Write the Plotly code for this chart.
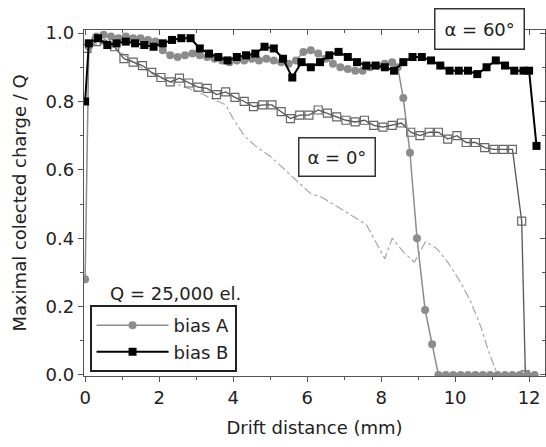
import plotly.graph_objects as go

# bias B, alpha = 60 deg (black filled squares)
xB60 = [0, 0.1, 0.35, 0.6, 0.85, 1.1, 1.35, 1.6, 1.85, 2.1, 2.35, 2.6, 2.85, 3.1, 3.35, 3.6, 3.85,
        4.1, 4.35, 4.6, 4.85, 5.1, 5.35, 5.6, 5.85, 6.1, 6.35, 6.6, 6.85, 7.1, 7.35, 7.6, 7.85,
        8.1, 8.35, 8.6, 8.85, 9.1, 9.35, 9.6, 9.85, 10.1, 10.35, 10.6, 10.85, 11.1, 11.35, 11.6,
        11.85, 12.0, 12.2]
yB60 = [0.80, 0.97, 0.985, 0.965, 0.97, 0.975, 0.97, 0.965, 0.96, 0.97, 0.98, 0.985, 0.985, 0.955,
        0.94, 0.93, 0.92, 0.93, 0.935, 0.94, 0.96, 0.955, 0.925, 0.87, 0.915, 0.90, 0.915, 0.935,
        0.945, 0.93, 0.915, 0.905, 0.905, 0.90, 0.89, 0.915, 0.93, 0.93, 0.92, 0.905, 0.89, 0.89,
        0.89, 0.88, 0.90, 0.92, 0.905, 0.89, 0.89, 0.89, 0.67]

# bias A, alpha = 60 deg (gray filled circles)
xA60 = [0, 0.1, 0.3, 0.5, 0.7, 0.9, 1.1, 1.3, 1.5, 1.7, 1.9, 2.1, 2.3, 2.5, 2.7, 2.9, 3.1, 3.3,
        3.5, 3.7, 3.9, 4.1, 4.3, 4.5, 4.7, 4.9, 5.1, 5.3, 5.5, 5.7, 5.9, 6.1, 6.3, 6.5, 6.7, 6.9,
        7.1, 7.3, 7.5, 7.7, 7.9, 8.1, 8.3, 8.45, 8.6, 8.78, 8.97, 9.19, 9.38, 9.55, 9.75, 9.95,
        10.15, 10.35, 10.55, 10.75, 10.95, 11.15, 11.35, 11.55, 11.75, 11.95, 12.15]
yA60 = [0.28, 0.96, 0.99, 0.995, 0.99, 0.985, 0.99, 0.985, 0.985, 0.98, 0.975, 0.95, 0.935, 0.93,
        0.935, 0.94, 0.935, 0.93, 0.925, 0.92, 0.915, 0.92, 0.92, 0.925, 0.92, 0.925, 0.92, 0.915,
        0.91, 0.92, 0.945, 0.95, 0.94, 0.925, 0.91, 0.90, 0.895, 0.89, 0.89, 0.90, 0.905, 0.91,
        0.915, 0.90, 0.81, 0.65, 0.40, 0.19, 0.09, 0.0, 0.0, 0.0, 0.0, 0.0, 0.0, 0.0, 0.0, 0.0,
        0.0, 0.0, 0.0, 0.0, 0.0]

# bias B, alpha = 0 deg (open squares)
xB0 = [0.05, 0.3, 0.55, 0.8, 1.05, 1.3, 1.55, 1.8, 2.05, 2.3, 2.55, 2.8, 3.05, 3.3, 3.55, 3.8,
       4.05, 4.3, 4.55, 4.8, 5.05, 5.3, 5.55, 5.8, 6.05, 6.3, 6.55, 6.8, 7.05, 7.3, 7.55, 7.8,
       8.05, 8.3, 8.55, 8.8, 9.05, 9.3, 9.55, 9.8, 10.05, 10.3, 10.55, 10.8, 11.05, 11.3, 11.55,
       11.8, 11.9]
yB0 = [0.955, 0.975, 0.98, 0.96, 0.925, 0.915, 0.905, 0.885, 0.87, 0.857, 0.868, 0.854, 0.842,
       0.838, 0.82, 0.828, 0.812, 0.80, 0.785, 0.79, 0.79, 0.77, 0.75, 0.76, 0.76, 0.775, 0.766,
       0.755, 0.745, 0.74, 0.745, 0.73, 0.725, 0.73, 0.737, 0.71, 0.70, 0.71, 0.71, 0.69, 0.70,
       0.68, 0.68, 0.665, 0.66, 0.66, 0.66, 0.45, 0.0]

# bias A, alpha = 0 deg (thin dotted gray line)
xA0 = [0.1, 0.5, 1.0, 1.5, 2.0, 2.5, 3.0, 3.4, 3.8, 4.0, 4.3, 4.6, 5.0, 5.4, 5.8, 6.1, 6.4, 6.7,
       7.0, 7.3, 7.6, 7.9, 8.1, 8.3, 8.6, 8.9, 9.2, 9.5, 9.8, 10.1, 10.4, 10.7, 10.9, 11.15, 11.5,
       12.0, 12.2]
yA0 = [0.96, 0.975, 0.94, 0.90, 0.87, 0.85, 0.83, 0.81, 0.79, 0.75, 0.70, 0.67, 0.64, 0.60, 0.56,
       0.53, 0.52, 0.50, 0.48, 0.46, 0.44, 0.38, 0.34, 0.40, 0.36, 0.33, 0.39, 0.37, 0.33, 0.28,
       0.22, 0.14, 0.07, 0.0, 0.0, 0.0, 0.0]

x_ticks = [0, 2, 4, 6, 8, 10, 12]
y_ticks = [0.0, 0.2, 0.4, 0.6, 0.8, 1.0]
y_ticklabels = ["0.0", "0.2", "0.4", "0.6", "0.8", "1.0"]

FONT = "DejaVu Sans"
TXT = "#222222"
XR = [-0.03, 12.43]
YR = [-0.003, 1.009]

fig = go.Figure()
fig.add_trace(go.Scatter(x=xA0, y=yA0, mode="lines", showlegend=False,
                         line=dict(color="#a8a8a8", width=1.2, dash="dashdot")))
fig.add_trace(go.Scatter(x=xB0, y=yB0, mode="lines+markers", showlegend=False,
                         line=dict(color="#555555", width=1.3),
                         marker=dict(symbol="square-open", size=8, color="#666666",
                                     line=dict(width=1.2))))
fig.add_trace(go.Scatter(x=xA60, y=yA60, mode="lines+markers", name="bias A",
                         line=dict(color="#8c8c8c", width=1.5),
                         marker=dict(symbol="circle", size=8, color="#8c8c8c")))
fig.add_trace(go.Scatter(x=xB60, y=yB60, mode="lines+markers", name="bias B",
                         line=dict(color="#000000", width=2),
                         marker=dict(symbol="square", size=8, color="#000000")))
# helper trace to carry the mirrored (top/right) tick axes
fig.add_trace(go.Scatter(x=[None], y=[None], xaxis="x2", yaxis="y2", showlegend=False,
                         hoverinfo="skip"))

axis_common = dict(showgrid=False, zeroline=False, showline=True, linecolor="#555555",
                   linewidth=1.3, tickcolor="#555555", ticklen=5, tickwidth=1.2,
                   automargin=False)

fig.update_layout(
    width=546, height=447,
    margin=dict(l=84, r=1, t=30, b=71, autoexpand=False),
    paper_bgcolor="white", plot_bgcolor="white",
    font=dict(family=FONT, size=18, color=TXT),
    xaxis=dict(range=XR, tickvals=x_ticks, ticks="outside",
               minor=dict(dtick=1, tick0=0, ticks="outside", ticklen=3, tickcolor="#555555"),
               title=dict(text="Drift distance (mm)", standoff=14, font=dict(size=18)),
               tickfont=dict(size=18), **axis_common),
    yaxis=dict(range=YR, tickvals=y_ticks, ticktext=y_ticklabels, ticks="outside",
               minor=dict(dtick=0.1, tick0=0, ticks="outside", ticklen=3, tickcolor="#555555"),
               title=dict(text="Maximal colected charge / Q", standoff=14, font=dict(size=18)),
               tickfont=dict(size=18), **axis_common),
    xaxis2=dict(range=XR, overlaying="x", side="top", tickvals=x_ticks, ticks="inside",
                showticklabels=False,
                minor=dict(dtick=1, tick0=0, ticks="inside", ticklen=3, tickcolor="#555555"),
                **axis_common),
    yaxis2=dict(range=YR, overlaying="y", side="right", tickvals=y_ticks, ticks="inside",
                showticklabels=False,
                minor=dict(dtick=0.1, tick0=0, ticks="inside", ticklen=3, tickcolor="#555555"),
                **axis_common),
    legend=dict(x=0.012, y=0.205, xanchor="left", yanchor="top",
                bordercolor="#222222", borderwidth=2, bgcolor="white", itemwidth=72,
                font=dict(size=18, family=FONT, color=TXT), tracegroupgap=0),
    showlegend=True,
)

fig.add_annotation(text="α = 60°", xref="paper", yref="paper", x=0.859, y=1.004,
                   xanchor="center", yanchor="middle",
                   showarrow=False, bordercolor="#333333", borderwidth=1.5, borderpad=9,
                   bgcolor="white", font=dict(size=18, family=FONT, color=TXT))
fig.add_annotation(text="α = 0°", xref="x", yref="y", x=6.81, y=0.637,
                   xanchor="center", yanchor="middle",
                   showarrow=False, bordercolor="#333333", borderwidth=1.5, borderpad=8,
                   bgcolor="white", font=dict(size=18, family=FONT, color=TXT))
fig.add_annotation(text="Q = 25,000 el.", xref="paper", yref="paper", x=0.053, y=0.237,
                   xanchor="left", yanchor="middle", showarrow=False,
                   font=dict(size=18, family=FONT, color=TXT))

fig.write_html("out.html", config={"displayModeBar": False},
               post_script="document.body.style.margin='0';document.body.style.padding='0';")
